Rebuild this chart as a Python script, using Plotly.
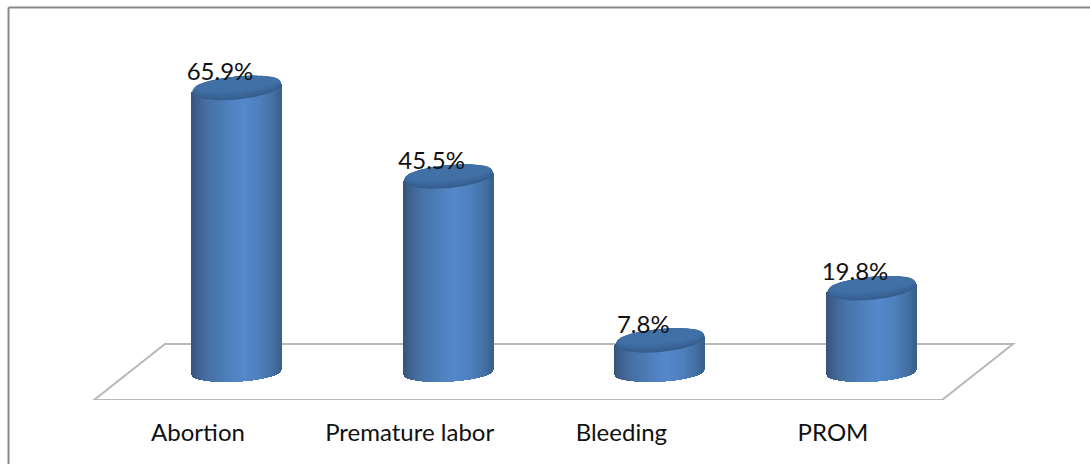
import numpy as np
import plotly.graph_objects as go

categories = ["Abortion", "Premature labor", "Bleeding", "PROM"]
values = [65.9, 45.5, 7.8, 19.8]
labels = ["65.9%", "45.5%", "7.8%", "19.8%"]

W, H, PLOT_H = 1090, 464, 400
X0, DX = 198.0, 211.67      # pixel of category 0, pixels per category
Y0, DY = 372.4, 4.346       # pixel of value 0, pixels per unit
BAR_OFF = 38.8 / DX         # oblique shift of bars from their axis label
LABEL_OFF = 22.0 / DX
LABEL_UP = 12.0 / DY
CAP_DROP = 2.0 / DY         # cap centre sits slightly below the value level
A = 44.5 / DX               # cylinder half width
TILT = 4.0 / DY             # value drop across half width (ellipse tilt)
B_TOP = 11.5 / DY
B_BOT = 9.5 / DY

xr = [-X0 / DX, (W - X0) / DX]
yr = [(Y0 - PLOT_H) / DY, Y0 / DY]


def px(xp):
    return (xp - X0) / DX


def py(yp):
    return (Y0 - yp) / DY


STOPS_T = [-1.0, -0.9, -0.65, -0.3, 0.15, 0.55, 0.85, 1.0]
STOPS_C = [(56, 84, 124), (62, 94, 138), (70, 112, 163), (76, 124, 182),
           (85, 137, 204), (78, 127, 188), (66, 110, 160), (58, 96, 142)]


def shade(t):
    return "rgb(%d,%d,%d)" % tuple(
        int(np.interp(t, STOPS_T, [c[k] for c in STOPS_C])) for k in range(3))


# body of each cylinder, as thin vertical slices
bx, bbase, bh, bc = [], [], [], []
ts = np.linspace(-1, 1, 89)
for i, v in enumerate(values):
    cx = i + BAR_OFF
    for t in ts:
        s = np.sqrt(max(1 - t * t, 0))
        low = TILT * t * 0.6 - B_BOT * s
        top = v - CAP_DROP + TILT * t
        bx.append(cx + t * A)
        bbase.append(low)
        bh.append(top - low)
        bc.append(shade(t))

fig = go.Figure()
fig.add_trace(go.Bar(x=bx, y=bh, base=bbase, width=1.6 / DX,
                     marker=dict(color=bc, line=dict(width=0)),
                     hoverinfo="skip", showlegend=False))

# elliptical caps: nested, lighter towards the upper part
theta = np.linspace(0, 2 * np.pi, 121)
cap_levels = [(0.0, 1.0, "#355e8e"), (1.5, 0.995, "#386194"), (3.0, 0.985, "#3b6699"),
              (5.5, 0.97, "#3e6ba0"), (8.0, 0.94, "#4170a7")]
for shift, ka, col in cap_levels:
    xs, ys = [], []
    for i, v in enumerate(values):
        cx = i + BAR_OFF
        s = shift / DY
        xs += list(cx + ka * A * np.cos(theta)) + [None]
        ys += list(v - CAP_DROP + s / 2 + TILT * ka * np.cos(theta)
                   + (B_TOP - s / 2) * np.sin(theta)) + [None]
    fig.add_trace(go.Scatter(x=xs, y=ys, mode="lines", fill="toself", fillcolor=col,
                             line=dict(width=0), hoverinfo="skip", showlegend=False))

# value labels
fig.add_trace(go.Scatter(
    x=[i + LABEL_OFF for i in range(len(values))],
    y=[v + LABEL_UP for v in values],
    text=labels, mode="text", textposition="middle center",
    textfont=dict(family="Lato", size=24, color="#111111"),
    hoverinfo="skip", showlegend=False, cliponaxis=False))

FLOOR = [(165, 344), (1013, 344), (942, 400), (94, 400)]
floor_path = "M " + " L ".join(f"{px(a):.4f},{py(b):.4f}" for a, b in FLOOR) + " Z"
fig.update_layout(
    width=W, height=H, autosize=False,
    margin=dict(l=0, r=0, t=0, b=H - PLOT_H, pad=0),
    paper_bgcolor="white", plot_bgcolor="white", bargap=0, barmode="overlay",
    xaxis=dict(range=xr, tickmode="array", tickvals=list(range(len(categories))),
               ticktext=categories, ticks="outside", ticklen=11, tickcolor="rgba(0,0,0,0)",
               tickfont=dict(family="Lato", size=24, color="#111111"),
               showgrid=False, zeroline=False, showline=False),
    yaxis=dict(range=yr, visible=False, showgrid=False, zeroline=False),
    shapes=[
        dict(type="path", path=floor_path, xref="x", yref="y", layer="below",
             line=dict(color="#b8b8b8", width=2)),
        dict(type="line", xref="paper", yref="paper", x0=8.5 / W, x1=1, y0=1 - 7.5 / PLOT_H,
             y1=1 - 7.5 / PLOT_H, line=dict(color="#888888", width=2)),
        dict(type="line", xref="paper", yref="paper", x0=8.5 / W, x1=8.5 / W,
             y0=1 - 7.5 / PLOT_H, y1=1 - H / PLOT_H, line=dict(color="#888888", width=2)),
    ],
)
fig.write_html("out.html", config={"displayModeBar": False},
               post_script="document.body.style.margin='0';")
